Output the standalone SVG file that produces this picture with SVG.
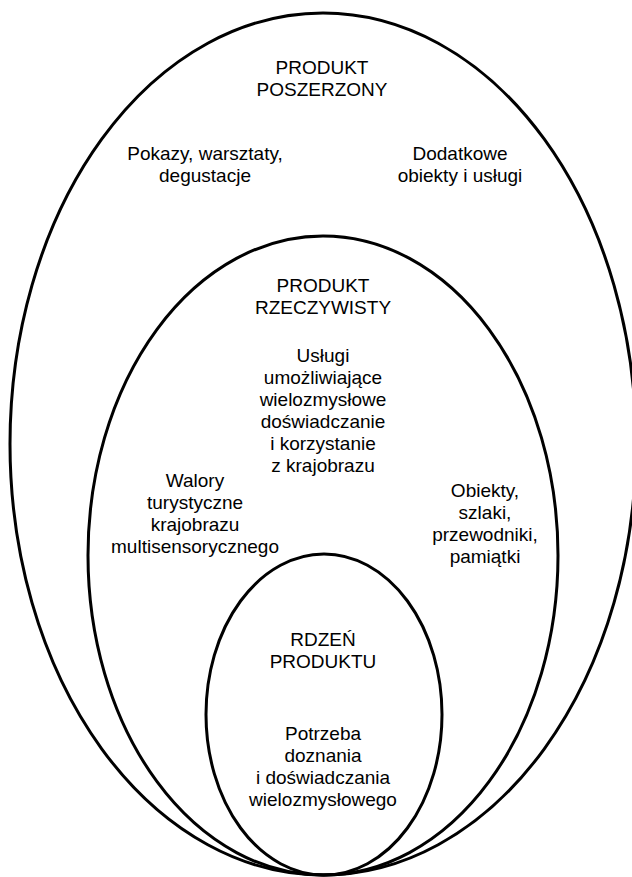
<svg xmlns="http://www.w3.org/2000/svg" width="632" height="877" viewBox="0 0 632 877">
<style>
.ring{fill:none;stroke:#000;stroke-width:3}
text{font-family:"Liberation Sans",Arial,sans-serif;font-size:19px;fill:#000;text-anchor:middle}
</style>
<rect width="632" height="877" fill="#fff"/>
<g id="outer">
<ellipse class="ring" cx="323" cy="444" rx="313" ry="431"/>
<text x="322" y="74">PRODUKT</text>
<text x="322" y="96">POSZERZONY</text>
<text x="205" y="160">Pokazy, warsztaty,</text>
<text x="205" y="182">degustacje</text>
<text x="460" y="160">Dodatkowe</text>
<text x="460" y="182">obiekty i usługi</text>
</g>
<g id="middle">
<ellipse class="ring" cx="323" cy="555.5" rx="235" ry="319.5"/>
<text x="323" y="292">PRODUKT</text>
<text x="323" y="314">RZECZYWISTY</text>
<text x="323" y="362">Usługi</text>
<text x="323" y="384">umożliwiające</text>
<text x="323" y="406">wielozmysłowe</text>
<text x="323" y="428">doświadczanie</text>
<text x="323" y="450">i korzystanie</text>
<text x="323" y="472">z krajobrazu</text>
<text x="195" y="487">Walory</text>
<text x="195" y="509">turystyczne</text>
<text x="195" y="531">krajobrazu</text>
<text x="195" y="553">multisensorycznego</text>
<text x="485" y="497">Obiekty,</text>
<text x="485" y="519">szlaki,</text>
<text x="485" y="541">przewodniki,</text>
<text x="485" y="563">pamiątki</text>
</g>
<g id="core">
<ellipse class="ring" cx="324" cy="714.5" rx="118" ry="160.5"/>
<text x="323" y="646">RDZEŃ</text>
<text x="323" y="668">PRODUKTU</text>
<text x="323" y="740">Potrzeba</text>
<text x="323" y="762">doznania</text>
<text x="323" y="784">i doświadczania</text>
<text x="323" y="806">wielozmysłowego</text>
</g>
<g id="connectors"/>
</svg>
